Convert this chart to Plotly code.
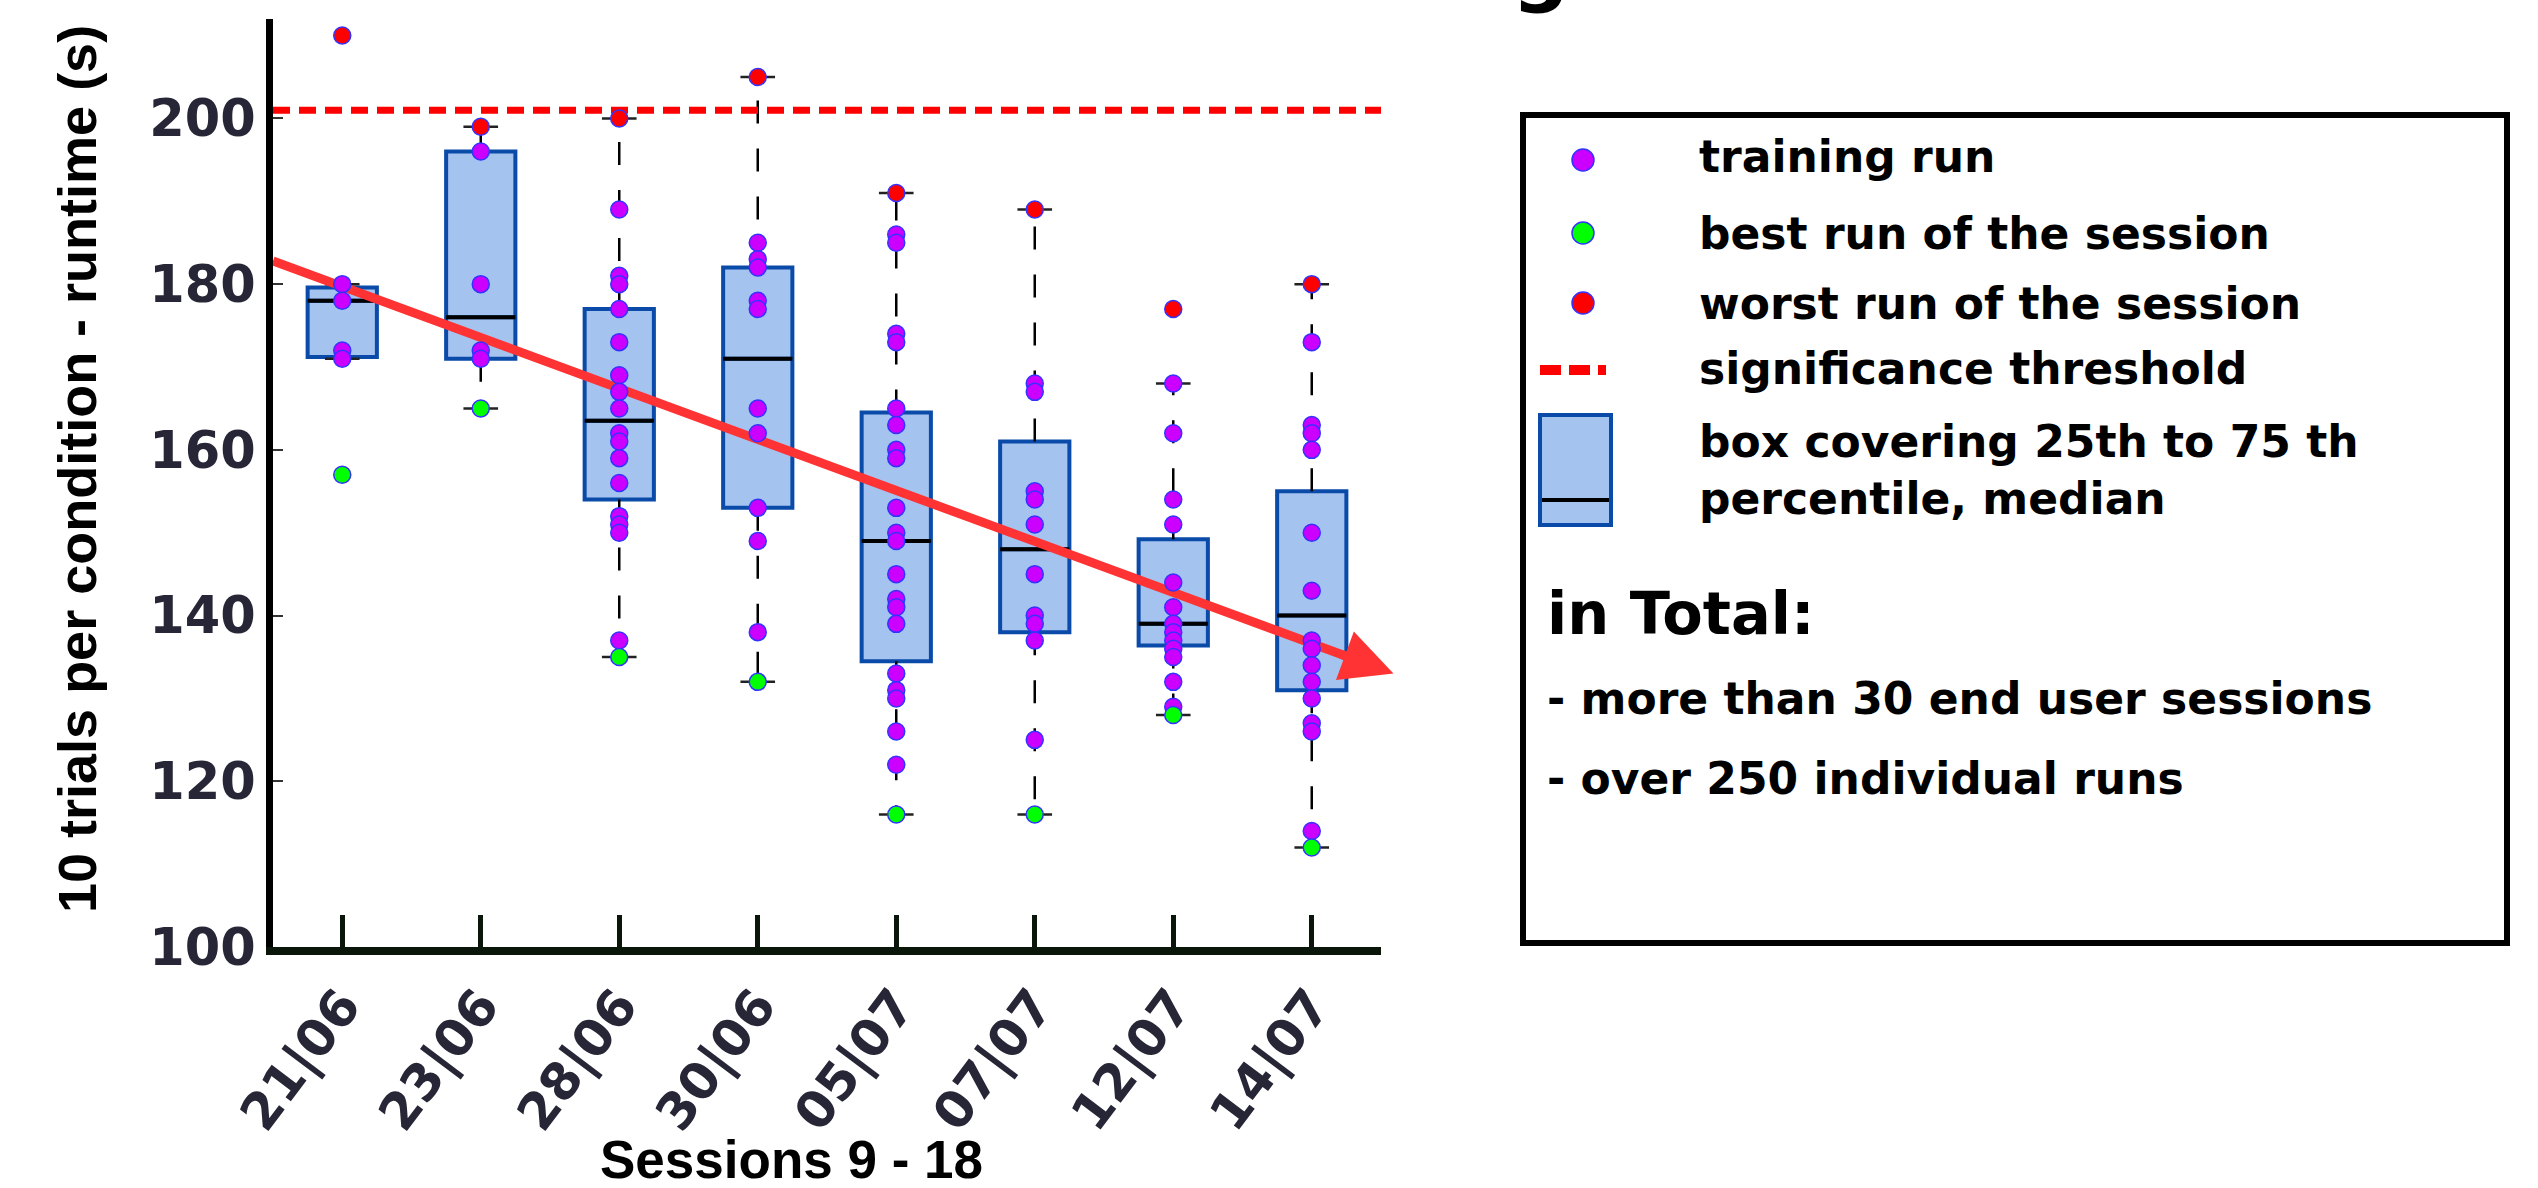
import plotly.graph_objects as go

# ---------------- data ----------------
sessions = ["21|06", "23|06", "28|06", "30|06", "05|07", "07|07", "12|07", "14|07"]

runs_21_06 = [210, 180, 178, 172, 171, 157]
runs_23_06 = [199, 196, 180, 172, 171, 165]
runs_28_06 = [200, 189, 181, 180, 177, 173, 169, 167, 165, 162, 161, 159, 156, 152, 151, 150, 137, 135]
runs_30_06 = [205, 185, 183, 182, 178, 177, 165, 162, 153, 149, 138, 132]
runs_05_07 = [191, 186, 185, 174, 173, 165, 163, 160, 159, 153, 150, 149, 145, 142, 141, 139, 133, 131,
              130, 126, 122, 116]
runs_07_07 = [189, 168, 167, 155, 154, 151, 145, 140, 139, 137, 125, 116]
runs_12_07 = [177, 168, 162, 154, 151, 144, 141, 139, 138, 137, 136, 135, 132, 129, 128]
runs_14_07 = [180, 173, 163, 162, 160, 150, 143, 137, 136, 134, 132, 130, 127, 126, 114, 112]

q1_values = [171.2, 171.0, 154.0, 153.0, 134.5, 138.0, 136.4, 131.0]
median_values = [178.0, 176.0, 163.5, 171.0, 149.0, 148.0, 139.0, 140.0]
q3_values = [179.6, 196.0, 177.0, 182.0, 164.5, 161.0, 149.2, 155.0]
whisker_low = [171.0, 165.0, 135.0, 132.0, 116.0, 116.0, 128.0, 112.0]
whisker_high = [180.0, 199.0, 200.0, 205.0, 191.0, 189.0, 168.0, 180.0]

threshold = 201
trend_start = 182.8   # trend value at left edge of the axis
trend_end = 133.0     # trend value at arrow tip

all_runs = [runs_21_06, runs_23_06, runs_28_06, runs_30_06,
            runs_05_07, runs_07_07, runs_12_07, runs_14_07]

# ---------------- geometry / style ----------------
W, H = 2538, 1188
L, R, T, B = 273, 1381, 19, 947
PW, PH = R - L, B - T


def px(X):
    return (X - L) / PW


def py(Y):
    return (B - Y) / PH


PURPLE = "#cc00ff"
GREEN = "#00ff00"
RED = "#ff0000"
EDGE = "#3333ff"
BOX_FILL = "#a5c3ef"
BOX_LINE = "#0a4aa8"
TREND = "#ff3333"
TICKFONT = dict(family="DejaVu Sans", size=51, color="#262636", weight="bold")
TITLEFONT = dict(family="Liberation Sans", size=54, color="black", weight="bold")
LEGFONT = dict(family="DejaVu Sans", size=44, color="black", weight="bold")

n = len(sessions)
xs = list(range(n))
half_box = 0.25
half_cap = 0.125

fig = go.Figure()

# boxes (whiskers drawn separately)
fig.add_trace(go.Box(
    x=xs, q1=q1_values, median=median_values, q3=q3_values,
    lowerfence=q1_values, upperfence=q3_values,
    width=0.5, fillcolor=BOX_FILL, line=dict(color=BOX_LINE, width=4),
    boxpoints=False, showlegend=False, hoverinfo="skip",
))

# dashed whiskers
wx, wy = [], []
for i in xs:
    wx += [i, i, None, i, i, None]
    wy += [q3_values[i], whisker_high[i], None, q1_values[i], whisker_low[i], None]
fig.add_trace(go.Scatter(x=wx, y=wy, mode="lines",
                         line=dict(color="black", width=2.5, dash="23px,25px"),
                         showlegend=False, hoverinfo="skip"))

# caps
cx, cy = [], []
for i in xs:
    for v in (whisker_high[i], whisker_low[i]):
        cx += [i - half_cap, i + half_cap, None]
        cy += [v, v, None]
fig.add_trace(go.Scatter(x=cx, y=cy, mode="lines",
                         line=dict(color="#222222", width=2.5),
                         showlegend=False, hoverinfo="skip"))

# medians
mx, my = [], []
for i in xs:
    mx += [i - half_box, i + half_box, None]
    my += [median_values[i], median_values[i], None]
fig.add_trace(go.Scatter(x=mx, y=my, mode="lines",
                         line=dict(color="black", width=4),
                         showlegend=False, hoverinfo="skip"))

# significance threshold
fig.add_trace(go.Scatter(x=[-0.5, n - 0.5], y=[threshold, threshold], mode="lines",
                         line=dict(color=RED, width=7, dash="17px,9px"),
                         showlegend=False, hoverinfo="skip"))

# trend line
x_start, x_tip = -0.5, n - 1 + 0.59
slope = (trend_end - trend_start) / (x_tip - x_start)


def trend_at(x):
    return trend_start + slope * (x - x_start)


fig.add_trace(go.Scatter(x=[x_start, n - 0.5], y=[trend_start, trend_at(n - 0.5)], mode="lines",
                         line=dict(color=TREND, width=9),
                         showlegend=False, hoverinfo="skip"))

# runs
px_, py_, pc = [], [], []
for i, runs in enumerate(all_runs):
    lo, hi = min(runs), max(runs)
    for v in runs:
        px_.append(i)
        py_.append(v)
        pc.append(GREEN if v == lo else (RED if v == hi else PURPLE))
order = sorted(range(len(pc)), key=lambda k: 0 if pc[k] == PURPLE else 1)
fig.add_trace(go.Scatter(
    x=[px_[k] for k in order], y=[py_[k] for k in order], mode="markers",
    marker=dict(size=17, color=[pc[k] for k in order], line=dict(color=EDGE, width=1.5)),
    cliponaxis=False, showlegend=False, hoverinfo="skip"))

# arrow head of the trend
x_back = n - 1 + 0.2
fig.add_annotation(x=x_tip, y=trend_end, ax=x_back, ay=trend_at(x_back),
                   xref="x", yref="y", axref="x", ayref="y", text="",
                   showarrow=True, arrowhead=2, arrowsize=1.15, arrowwidth=9,
                   arrowcolor=TREND, standoff=0)

# ---------------- axis titles ----------------
fig.add_annotation(text="10 trials per condition - runtime (s)", textangle=-90,
                   xref="paper", yref="paper", x=px(77), y=py(469),
                   xanchor="center", yanchor="middle", showarrow=False, font=TITLEFONT)
fig.add_annotation(text="Sessions 9 - 18",
                   xref="paper", yref="paper", x=px(791), y=py(1159),
                   xanchor="center", yanchor="middle", showarrow=False,
                   font=dict(family="Liberation Sans", size=53, color="black", weight="bold"))

# partial title glyph at the very top
fig.add_annotation(text="g", xref="paper", yref="paper", x=px(1540), y=py(17),
                   xanchor="center", yanchor="bottom", showarrow=False,
                   font=dict(family="DejaVu Sans", size=80, color="black", weight="bold"))

# ---------------- custom legend ----------------
shapes = []
shapes.append(dict(type="rect", xref="paper", yref="paper",
                   x0=px(1523), x1=px(2507), y0=py(943), y1=py(115),
                   line=dict(color="black", width=6), fillcolor="rgba(0,0,0,0)"))
for cy_, col in ((160, PURPLE), (233, GREEN), (303, RED)):
    shapes.append(dict(type="circle", xref="paper", yref="paper",
                       x0=px(1572), x1=px(1594), y0=py(cy_ + 11), y1=py(cy_ - 11),
                       fillcolor=col, line=dict(color=EDGE, width=1.5)))
shapes.append(dict(type="line", xref="paper", yref="paper",
                   x0=px(1540), x1=px(1606), y0=py(370), y1=py(370),
                   line=dict(color=RED, width=10, dash="21px,8px")))
shapes.append(dict(type="rect", xref="paper", yref="paper",
                   x0=px(1540), x1=px(1611), y0=py(525), y1=py(415),
                   fillcolor=BOX_FILL, line=dict(color=BOX_LINE, width=4)))
shapes.append(dict(type="line", xref="paper", yref="paper",
                   x0=px(1542), x1=px(1609), y0=py(500), y1=py(500),
                   line=dict(color="black", width=4)))

legend_rows = [("training run", 156), ("best run of the session", 233),
               ("worst run of the session", 303), ("significance threshold", 368),
               ("box covering 25th to 75 th", 442), ("percentile, median", 499)]
for txt, yc in legend_rows:
    fig.add_annotation(text=txt, xref="paper", yref="paper", x=px(1697), y=py(yc),
                       xanchor="left", yanchor="middle", showarrow=False, font=LEGFONT)

fig.add_annotation(text="in Total:", xref="paper", yref="paper", x=px(1545), y=py(613),
                   xanchor="left", yanchor="middle", showarrow=False,
                   font=dict(family="DejaVu Sans", size=59, color="black", weight="bold"))
for txt, yc in (("- more than 30 end user sessions", 698), ("- over 250 individual runs", 778)):
    fig.add_annotation(text=txt, xref="paper", yref="paper", x=px(1545), y=py(yc),
                       xanchor="left", yanchor="middle", showarrow=False, font=LEGFONT)

# ---------------- layout ----------------
fig.update_layout(
    width=W, height=H, autosize=False,
    margin=dict(l=L, r=W - R, t=T, b=H - B, pad=0),
    paper_bgcolor="white", plot_bgcolor="white",
    showlegend=False, shapes=shapes,
    xaxis=dict(range=[-0.5, n - 0.5], tickmode="array", tickvals=xs, ticktext=sessions,
               tickangle=-53, ticks="inside", ticklen=32, tickwidth=5, tickcolor="#0a160a",
               showline=True, linewidth=8, linecolor="#0a160a", showgrid=False, zeroline=False,
               tickfont=TICKFONT, fixedrange=True),
    yaxis=dict(range=[100, 212], tickmode="array", tickvals=[100, 120, 140, 160, 180, 200],
               ticks="inside", ticklen=10, tickwidth=2, tickcolor="#333333",
               showline=True, linewidth=7, linecolor="black", showgrid=False, zeroline=False,
               tickfont=TICKFONT, fixedrange=True),
)

fig.write_html("out.html", config={"displayModeBar": False},
               post_script="document.body.style.margin='0';document.body.style.overflow='hidden';")
